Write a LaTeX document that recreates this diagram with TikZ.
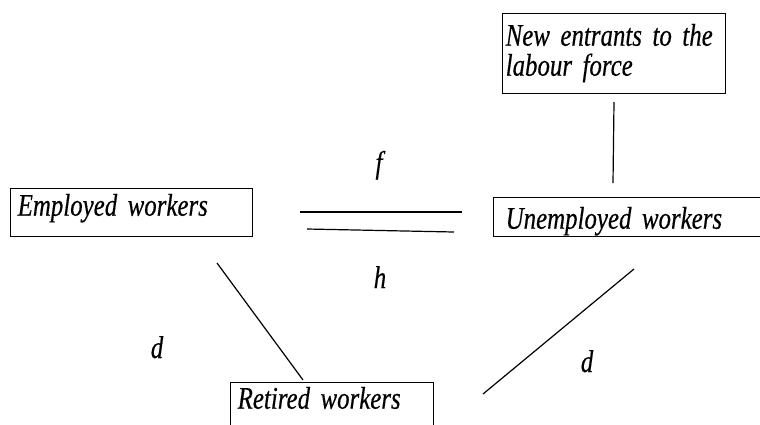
\documentclass[tikz,border=0pt]{standalone}
\usepackage{fontspec}
\setmainfont{Liberation Serif}[FakeStretch=0.79, FakeBold=0.4]
\begin{document}
\begin{tikzpicture}[x=1pt, y=-1pt,
  box/.style={draw, line width=1.4pt, anchor=north west, align=left, inner ysep=5pt,
    font=\fontsize{31.5}{30}\selectfont\itshape},
  lbl/.style={anchor=base, font=\fontsize{31.5}{30}\selectfont\itshape},
  link/.style={line width=1.2pt}]

\path [use as bounding box] (0,0) rectangle (760,424);
\clip (0,0) rectangle (760,424);

\node [box, inner xsep=7pt, text width=228pt, text height=22pt, text depth=16pt] (empl) at (10,188) {Employed workers};
\node [box, inner xsep=12pt, text width=276pt, text height=26pt, text depth=3pt] (unemp) at (493,197) {Unemployed workers};
\node [box, inner xsep=7pt, text width=189pt, text height=21pt, text depth=25pt] (retd) at (230,382) {Retired workers};
\node [box, inner xsep=3pt, text width=217pt, text height=27pt, text depth=43pt] (entr) at (502,13) {\makebox[217pt][s]{New entrants to the}\\labour force};

\node [lbl] (f) at (379,173) {f};
\node [lbl] (h) at (380,288) {h};
\node [lbl] (dl) at (157,358) {d};
\node [lbl] (dr) at (587,372) {d};

\coordinate (fa) at (300,212); \coordinate (fb) at (462,212);
\coordinate (ha) at (307,229); \coordinate (hb) at (454,232);
\coordinate (na) at (614,102); \coordinate (nb) at (613,183);
\coordinate (ra) at (217,263); \coordinate (rb) at (303,380);
\coordinate (ua) at (634,269); \coordinate (ub) at (483,394);

\draw [link] (fa) -- (fb);
\draw [link] (ha) -- (hb);
\draw [link] (na) -- (nb);
\draw [link] (ra) -- (rb);
\draw [link] (ua) -- (ub);

\end{tikzpicture}
\end{document}
